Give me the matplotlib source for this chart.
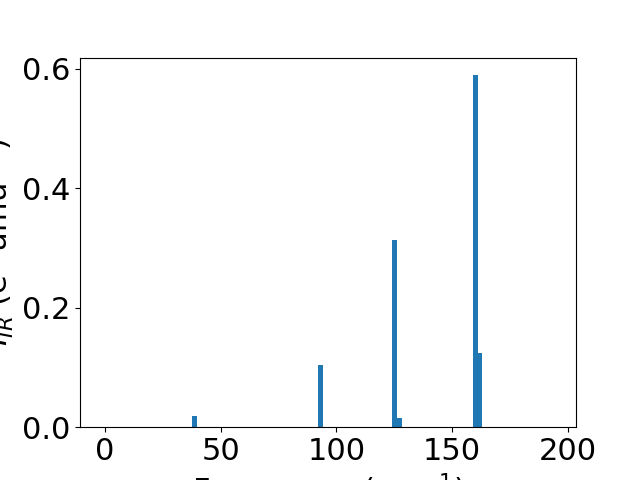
import matplotlib
matplotlib.use("Agg")
import matplotlib.pyplot as plt

freqs = [38.6, 93.2, 125.1, 127.2, 160.1, 161.7]
intensities = [0.0184, 0.104, 0.313, 0.015, 0.589, 0.124]
bar_width = 2.1

plt.rcParams['font.size'] = 22
fig, ax = plt.subplots(figsize=(6.4, 4.8), dpi=100)
ax.bar(freqs, intensities, width=bar_width, color='#1f77b4')
ax.set_xlim(-10.8, 203.5)
ax.set_xticks([0, 50, 100, 150, 200])
ax.set_yticks([0.0, 0.2, 0.4, 0.6])
ax.set_xlabel('Frequency (cm$^{-1}$)')
ax.set_ylabel('$I_{IR}$ (e$^2$ amu$^{-1}$)')
fig.savefig('out.png', dpi=100)
